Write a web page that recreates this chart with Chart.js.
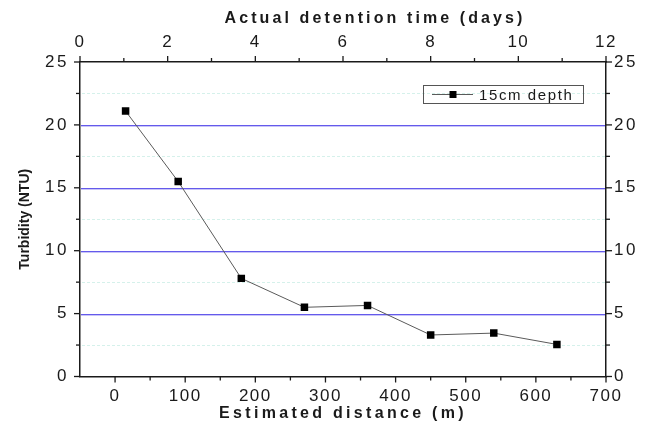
<!DOCTYPE html>
<html><head><meta charset="utf-8">
<script src="https://cdn.jsdelivr.net/npm/chart.js@4/dist/chart.umd.min.js"></script>
<style>html,body{margin:0;padding:0;background:#fff;}#wrap{width:650px;height:431px;}</style>
</head><body><div id="wrap"><canvas id="c" width="650" height="431"></canvas></div>
<script>
// ---- data ----
const distance = [15, 90, 180, 270, 360, 450, 540, 630];
const turbidity = [21.1, 15.5, 7.8, 5.5, 5.65, 3.3, 3.45, 2.55];
const seriesLabel = '15cm depth';
const distanceTicks = [0, 100, 200, 300, 400, 500, 600, 700];
const daysTicks = [0, 2, 4, 6, 8, 10, 12];
const turbidityTicks = [0, 5, 10, 15, 20, 25];
const xTitle = 'Estimated distance (m)';
const x2Title = 'Actual detention time (days)';
const yTitle = 'Turbidity (NTU)';

// ---- styles ----
const FONT = "'Liberation Sans', Arial, sans-serif";
const INK = '#1a1a1a';
const TITLE_SP = {x: '3.3px', x2: '3.1px', y: '0px', y2: '0px'};
const TITLE_DX = {x: 0, x2: 32, y: 0, y2: 0};
const LABEL_SP = {x: '1.5px', x2: '1.5px', y: '2.5px', y2: '2.5px'};

function mids(arr){ const r=[]; for(let i=0;i<arr.length-1;i++) r.push((arr[i]+arr[i+1])/2); return r; }
function setTicks(vals){ return s => { s.ticks = vals.map(v => ({value: v})); }; }

const spacingPlugin = {
  id: 'spacing',
  beforeDraw(chart){
    for (const id in chart.scales){
      const s = chart.scales[id];
      if (s._sp) continue; s._sp = true;
      const dt = s.drawTitle, dl = s.drawLabels;
      s.drawTitle = function(...a){ const c=this.ctx; c.save(); c.letterSpacing = TITLE_SP[id]||'0px'; c.translate(TITLE_DX[id]||0, 0); dt.apply(this,a); c.restore(); };
      s.drawLabels = function(...a){ const c=this.ctx; c.save(); c.letterSpacing = LABEL_SP[id]||'0px'; dl.apply(this,a); c.restore(); };
    }
  }
};

const gridPlugin = {
  id: 'grid2',
  beforeDatasetsDraw(chart){
    const {ctx, chartArea: a} = chart; const ys = chart.scales.y;
    ctx.save();
    ctx.fillStyle = 'rgba(185,232,222,0.6)';
    mids(turbidityTicks).forEach(v => {
      const p = Math.round(ys.getPixelForValue(v));
      for (let x = a.left + 2; x < a.right - 2; x += 5) ctx.fillRect(x, p, 3, 1);
    });
    turbidityTicks.slice(1,-1).forEach(v => {
      const p = Math.round(ys.getPixelForValue(v));
      ctx.fillStyle = 'rgb(100,90,235)';
      ctx.fillRect(a.left + 1, p, a.right - a.left - 2, 1);
      ctx.fillStyle = 'rgba(100,90,235,0.35)';
      ctx.fillRect(a.left + 1, p + 1, a.right - a.left - 2, 1);
    });
    ctx.restore();
  },
  afterDraw(chart){
    const {ctx, chartArea: a} = chart;
    ctx.save();
    ctx.strokeStyle = INK; ctx.lineWidth = 1.3;
    const defs = [
      ['x', distanceTicks, 'bottom'], ['x2', daysTicks, 'top'],
      ['y', turbidityTicks, 'left'], ['y2', turbidityTicks, 'right']
    ];
    defs.forEach(([id, ticks, pos]) => {
      const s = chart.scales[id];
      const all = ticks.map(v=>[v,6]).concat(mids(ticks).map(v=>[v,4]));
      all.forEach(([v,len]) => {
        const p = s.getPixelForValue(v);
        ctx.beginPath();
        if (pos==='bottom'){ ctx.moveTo(p,a.bottom); ctx.lineTo(p,a.bottom+len); }
        if (pos==='top'){ ctx.moveTo(p,a.top); ctx.lineTo(p,a.top-len); }
        if (pos==='left'){ ctx.moveTo(a.left,p); ctx.lineTo(a.left-len,p); }
        if (pos==='right'){ ctx.moveTo(a.right,p); ctx.lineTo(a.right+len,p); }
        ctx.stroke();
      });
    });
    // legend
    const ds = chart.data.datasets[0];
    const bx = a.right-183, by = a.top+23, bw = 160, bh = 18;
    ctx.lineWidth = 1; ctx.strokeStyle = '#555';
    ctx.strokeRect(bx+0.5, by+0.5, bw, bh);
    const cy = by + bh/2 + 0.5;
    ctx.strokeStyle = ds.borderColor; ctx.beginPath(); ctx.moveTo(bx+9, cy); ctx.lineTo(bx+50, cy); ctx.stroke();
    ctx.fillStyle = '#000'; ctx.fillRect(bx+30-3.5, cy-3.5, 7, 7);
    ctx.fillStyle = INK; ctx.font = '15px ' + FONT; ctx.textBaseline = 'middle'; ctx.textAlign = 'left';
    ctx.letterSpacing = '1.6px';
    ctx.fillText(ds.label, bx+56, cy+1);
    ctx.restore();
  }
};

const tickFont = {family: FONT, size: 17};
const titleFont = {family: FONT, size: 16, weight: 'bold'};
const gridOff = () => ({display: true, color: 'rgba(0,0,0,0)', drawTicks: false, drawOnChartArea: false});
const border = () => ({display: true, color: INK, width: 1.5});

new Chart(document.getElementById('c'), {
  type: 'scatter',
  data: { datasets: [{
    label: seriesLabel,
    data: distance.map((d,i) => ({x: d, y: turbidity[i]})),
    showLine: true, borderColor: '#5a5a5a', borderWidth: 1,
    pointStyle: 'rect', pointRadius: 5.3, pointHoverRadius: 5.3,
    pointBackgroundColor: '#000', pointBorderWidth: 0
  }]},
  options: {
    responsive: false, animation: false,
    layout: {padding: 0},
    plugins: {legend: {display: false}, tooltip: {enabled: false}},
    scales: {
      x: { type: 'linear', position: 'bottom', min: -50, max: 700,
        afterBuildTicks: setTicks(distanceTicks), afterFit: s => { s.height = 54.5; },
        grid: gridOff(), border: border(),
        ticks: {font: tickFont, color: INK, padding: 10, maxRotation: 0, autoSkip: false},
        title: {display: true, text: xTitle, font: titleFont, color: INK, padding: {top: 0, bottom: 8}} },
      x2: { type: 'linear', position: 'top', min: 0, max: 12,
        afterBuildTicks: setTicks(daysTicks), afterFit: s => { s.height = 62; },
        grid: gridOff(), border: border(),
        ticks: {font: tickFont, color: INK, padding: 9, maxRotation: 0, autoSkip: false},
        title: {display: true, text: x2Title, font: titleFont, color: INK, padding: {top: 9, bottom: 0}} },
      y: { type: 'linear', position: 'left', min: 0, max: 25,
        afterBuildTicks: setTicks(turbidityTicks), afterFit: s => { s.width = 80; },
        grid: gridOff(), border: border(),
        ticks: {font: tickFont, color: INK, padding: 11},
        title: {display: true, text: yTitle, font: {family: FONT, size: 14, weight: 'bold'}, color: INK, padding: {top: 17, bottom: 0}} },
      y2: { type: 'linear', position: 'right', min: 0, max: 25,
        afterBuildTicks: setTicks(turbidityTicks), afterFit: s => { s.width = 44; },
        grid: gridOff(), border: border(),
        ticks: {font: tickFont, color: INK, padding: 8} }
    }
  },
  plugins: [spacingPlugin, gridPlugin]
});
</script></body></html>
